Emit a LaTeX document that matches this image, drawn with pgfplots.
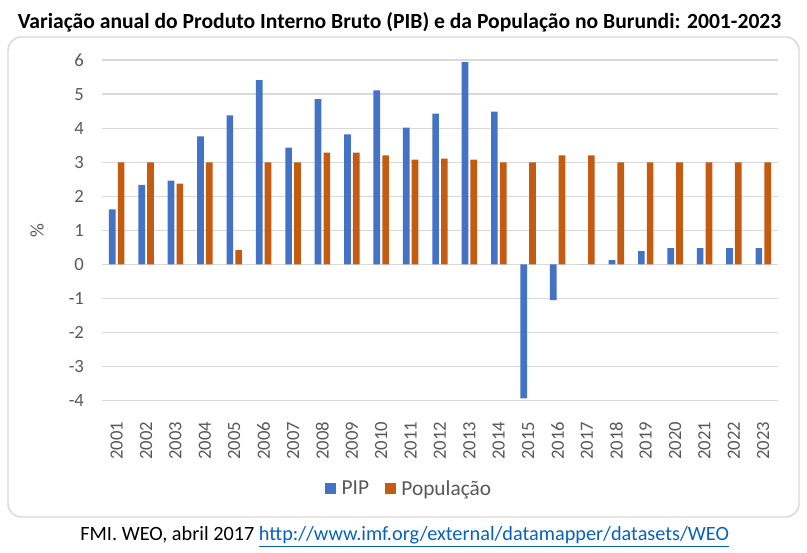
\documentclass[border=0pt]{standalone}
\usepackage{fontspec}
\setmainfont{Carlito}
\usepackage{pgfplots}
\pgfplotsset{compat=1.18}

\definecolor{pib}{HTML}{4472C4}
\definecolor{pop}{HTML}{C55A11}
\definecolor{gridgray}{HTML}{D9D9D9}
\definecolor{txt}{HTML}{595959}
\definecolor{link}{HTML}{0563C1}

\begin{document}
\begin{tikzpicture}
% picture is 807 x 553 px, 1 px = 0.75pt
\path[use as bounding box] (0,0) rectangle (605.25pt,414.75pt);
\fill[white] (0,0) rectangle (605.25pt,414.75pt);
\draw[gridgray, line width=1.1pt, rounded corners=10pt] (6pt,27pt) rectangle (599.25pt,387pt);

\node[anchor=base, font=\fontsize{16.2}{19}\selectfont\bfseries] at (299.6pt,393pt)
  {Variação anual do Produto Interno Bruto (PIB) e da População no Burundi: 2001-2023};

\begin{axis}[
  at={(76.5pt,114.2pt)}, anchor=south west,
  scale only axis, width=507pt, height=255.5pt,
  ybar, bar width=5pt,
  xmin=2000.5, xmax=2023.5,
  ymin=-4, ymax=6,
  xtick={2001,...,2023},
  ytick={-4,-3,...,6},
  axis line style={draw=none},
  tick style={draw=none},
  ymajorgrids=true,
  major y grid style={draw=gridgray, line width=1pt},
  /pgf/number format/assume math mode=true,
  ticklabel style={font=\fontsize{14}{17}\selectfont, text=txt},
  xticklabel style={rotate=90, anchor=east, xshift=-8pt,
    /pgf/number format/1000 sep={}},
  yticklabel style={xshift=-10pt},
  ylabel={\%},
  ylabel style={at={(axis description cs:-0.096,0.5)}, anchor=center,
    font=\fontsize{14.5}{17}\selectfont, text=txt},
  legend columns=2,
  legend style={at={(axis description cs:0.455,-0.259)}, anchor=center,
    draw=none, fill=none, font=\fontsize{16}{19}\selectfont, text=txt,
    /tikz/every even column/.append style={column sep=10pt},
    /tikz/every odd column/.append style={column sep=2pt}},
  legend image code/.code={\fill[#1] (0pt,-3.8pt) rectangle (8.25pt,4.45pt);},
  clip=false]

\addplot[fill=pib, draw=none, bar shift=-3.3pt] coordinates {
  (2001,1.62) (2002,2.34) (2003,2.46) (2004,3.76) (2005,4.38) (2006,5.41)
  (2007,3.43) (2008,4.85) (2009,3.82) (2010,5.11) (2011,4.02) (2012,4.43)
  (2013,5.94) (2014,4.49) (2015,-3.93) (2016,-1.05) (2017,0) (2018,0.13)
  (2019,0.39) (2020,0.48) (2021,0.48) (2022,0.48) (2023,0.48)};
\addlegendentry{PIP}

\addplot[fill=pop, draw=none, bar shift=3.3pt] coordinates {
  (2001,3.0) (2002,3.0) (2003,2.37) (2004,3.0) (2005,0.42) (2006,3.0)
  (2007,3.0) (2008,3.28) (2009,3.28) (2010,3.2) (2011,3.08) (2012,3.11)
  (2013,3.08) (2014,3.0) (2015,3.0) (2016,3.2) (2017,3.2) (2018,3.0)
  (2019,3.0) (2020,3.0) (2021,3.0) (2022,3.0) (2023,3.0)};
\addlegendentry{População}
\end{axis}

\node[anchor=base, font=\fontsize{15.2}{18}\selectfont] at (303.5pt,9pt)
  {FMI. WEO, abril 2017 \textcolor{link}{\underline{http://www.imf.org/external/datamapper/datasets/WEO}}};
\end{tikzpicture}
\end{document}
